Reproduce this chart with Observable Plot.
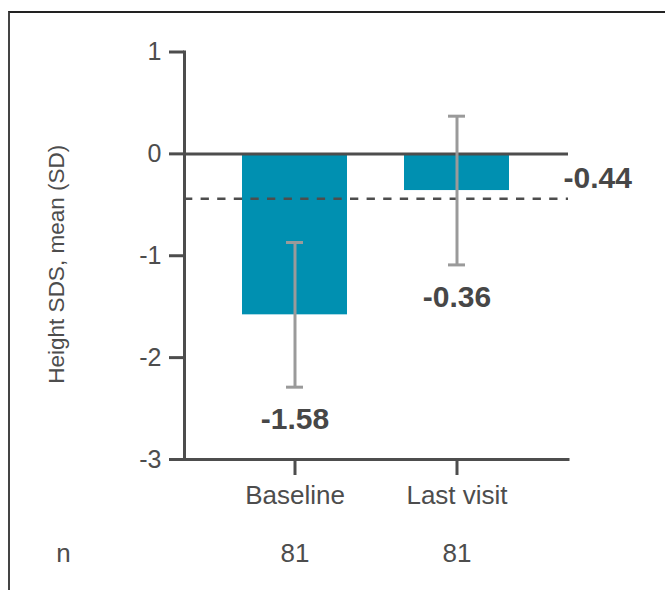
<!DOCTYPE html>
<html>
<head>
<meta charset="utf-8">
<script src="https://cdn.jsdelivr.net/npm/d3@7"></script>
<script src="https://cdn.jsdelivr.net/npm/@observablehq/plot@0.6"></script>
<style>
  html, body { margin: 0; padding: 0; background: #fff; overflow: hidden; }
  #wrap { position: relative; width: 665px; height: 590px; }
  #border { position: absolute; left: 8px; top: 11px; width: 700px; height: 700px;
            border-left: 2px solid #444; border-top: 2px solid #222; box-sizing: border-box; }
  #chart { position: absolute; left: 0; top: 0; }
</style>
</head>
<body>
<div id="wrap"><div id="border"></div><div id="chart"></div></div>
<script>
const categories = ["Baseline", "Last visit"];
const means = [-1.58, -0.36];
const sds = [0.71, 0.73];
const ns = [81, 81];
const referenceMean = -0.44;
const yTicks = [1, 0, -1, -2, -3];
const yLabel = "Height SDS, mean (SD)";
const nLabel = "n";

const rows = categories.map((c, i) => ({
  cat: c, mean: means[i], lo: means[i] - sds[i], hi: means[i] + sds[i], n: ns[i]
}));

const ink = "#4d4d4d";
const font = "'Liberation Sans', Arial, sans-serif";

const plot = Plot.plot({
  width: 665,
  height: 590,
  marginLeft: 184,
  marginRight: 97,
  marginTop: 51.5,
  marginBottom: 131,
  style: { fontFamily: font, color: ink, background: "transparent", overflow: "visible" },
  x: { domain: categories, paddingInner: 0.35, paddingOuter: 0.353 },
  y: { domain: [-3, 1] },
  marks: [
    Plot.barY(rows, { x: "cat", y: "mean", fill: "#0090b1" }),
    Plot.ruleY([0], { stroke: ink, strokeWidth: 3 }),
    Plot.ruleY([-3], { stroke: ink, strokeWidth: 3, strokeLinecap: "square" }),
    Plot.frame({ anchor: "left", stroke: ink, strokeWidth: 3 }),
    Plot.ruleY([referenceMean], { stroke: ink, strokeWidth: 2.5, strokeDasharray: "8.3,8.3" }),
    Plot.ruleX(rows, { x: "cat", y1: "lo", y2: "hi", stroke: "#9a9a9a", strokeWidth: 3 }),
    Plot.tickY(rows, { x: "cat", y: "lo", stroke: "#9a9a9a", strokeWidth: 3, insetLeft: 44, insetRight: 44 }),
    Plot.tickY(rows, { x: "cat", y: "hi", stroke: "#9a9a9a", strokeWidth: 3, insetLeft: 44, insetRight: 44 }),
    Plot.axisY({
      ticks: yTicks, tickFormat: d => String(d), tickSize: 15, tickPadding: 8,
      stroke: ink, strokeWidth: 3, fontSize: 25, fill: ink, label: null
    }),
    Plot.text([yLabel], {
      frameAnchor: "left", text: d => d, rotate: -90, dx: -128, dy: 8.5, textAnchor: "middle",
      lineAnchor: "middle", fontSize: 22.5, fill: ink
    }),
    Plot.axisX({
      tickSize: 16, tickPadding: 10, stroke: ink, strokeWidth: 3,
      fontSize: 26, fill: ink, label: null
    }),
    Plot.text(rows, {
      x: "cat", y: "lo", text: d => d.mean.toFixed(2), dy: 32,
      fontSize: 30, fontWeight: "bold", fill: "#474747", lineAnchor: "middle"
    }),
    Plot.text([referenceMean], {
      y: d => d, frameAnchor: "right", text: d => d.toFixed(2), textAnchor: "start",
      dx: -5, dy: -20, fontSize: 30, fontWeight: "bold", fill: "#474747", lineAnchor: "middle"
    }),
    Plot.text(rows, {
      x: "cat", frameAnchor: "bottom", text: d => String(d.n), dy: 94,
      fontSize: 26, fill: ink, lineAnchor: "middle"
    }),
    Plot.text([nLabel], {
      frameAnchor: "bottom-left", text: d => d, dx: -121, dy: 94, textAnchor: "middle",
      fontSize: 26, fill: ink, lineAnchor: "middle"
    })
  ]
});
document.getElementById("chart").appendChild(plot);
</script>
</body>
</html>
